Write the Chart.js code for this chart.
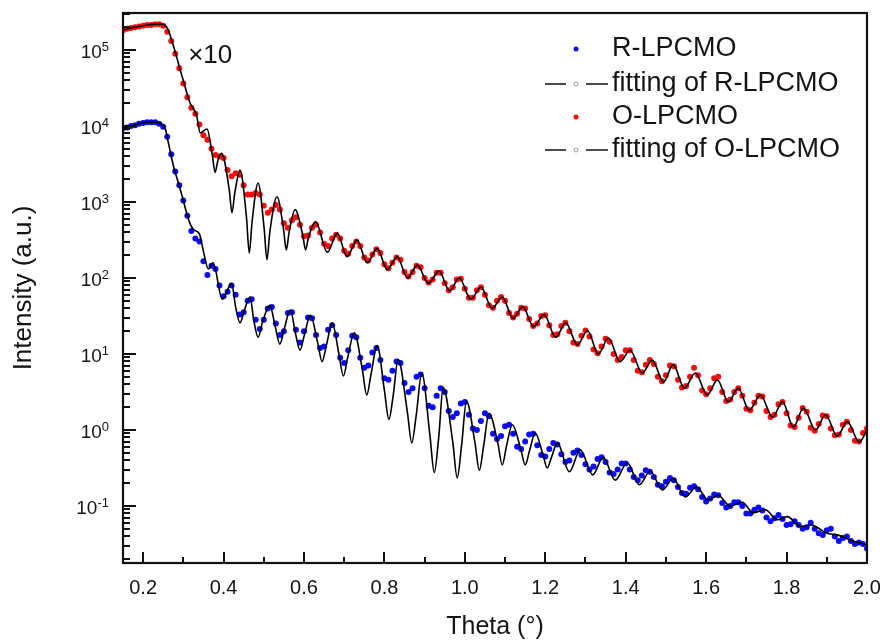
<!DOCTYPE html>
<html><head><meta charset="utf-8">
<script src="https://cdn.jsdelivr.net/npm/chart.js@4.4.0/dist/chart.umd.min.js"></script>
<style>html,body{margin:0;padding:0;background:#fff}canvas{display:block}</style>
</head><body>
<canvas id="c" width="887" height="642"></canvas>
<script>
// ---- data (intensities given as log10 exponents, i.e. decades on the log axis) ----
const thetaStart = 0.15;   // first measured angle
const thetaStep = 0.01;    // spacing of measured points
// measured R-LPCMO (blue dots), theta = 0.15 ... 2.00
const rDataExp = [
 3.97,3.98,4.00,4.01,4.03,4.04,4.05,4.05,4.05,4.03,
 3.99,3.86,3.63,3.40,3.22,3.02,2.82,2.62,2.52,2.48,
 2.22,2.04,2.16,2.12,1.90,1.76,1.82,1.90,1.78,1.52,
 1.55,1.70,1.72,1.45,1.33,1.45,1.60,1.62,1.40,1.25,
 1.30,1.54,1.55,1.32,1.15,1.30,1.48,1.47,1.25,1.08,
 1.10,1.32,1.38,1.25,0.95,0.88,1.05,1.24,1.22,0.95,
 0.82,0.85,1.02,1.08,0.92,0.68,0.66,0.78,0.90,0.88,
 0.62,0.50,0.55,0.70,0.73,0.55,0.32,0.30,0.45,0.55,
 0.50,0.25,0.17,0.22,0.35,0.37,0.20,0.02,0.00,0.12,
 0.22,0.18,-0.05,-0.12,-0.08,0.05,0.07,-0.05,-0.22,-0.25,
 -0.15,-0.06,-0.05,-0.20,-0.33,-0.35,-0.25,-0.17,-0.19,-0.32,
 -0.42,-0.40,-0.30,-0.27,-0.33,-0.45,-0.52,-0.48,-0.38,-0.36,
 -0.42,-0.56,-0.58,-0.52,-0.44,-0.44,-0.52,-0.62,-0.66,-0.60,
 -0.53,-0.55,-0.62,-0.72,-0.74,-0.68,-0.63,-0.66,-0.75,-0.83,
 -0.84,-0.76,-0.74,-0.78,-0.88,-0.94,-0.90,-0.85,-0.86,-0.96,
 -1.02,-1.00,-0.95,-0.95,-1.00,-1.10,-1.10,-1.05,-1.02,-1.06,
 -1.15,-1.20,-1.16,-1.12,-1.17,-1.25,-1.24,-1.20,-1.25,-1.30,
 -1.28,-1.22,-1.30,-1.36,-1.38,-1.32,-1.30,-1.40,-1.46,-1.42,
 -1.40,-1.46,-1.50,-1.48,-1.50,-1.56
];
// measured O-LPCMO x10 (red dots), theta = 0.15 ... 2.00
const oDataExp = [
 5.26,5.28,5.29,5.30,5.31,5.32,5.33,5.33,5.34,5.34,
 5.32,5.24,5.12,4.95,4.76,4.56,4.38,4.24,4.16,4.02,
 3.88,3.82,3.70,3.62,3.60,3.58,3.42,3.34,3.38,3.36,
 3.22,3.10,3.10,3.12,3.10,2.95,2.86,2.90,2.96,2.90,
 2.72,2.66,2.76,2.80,2.70,2.55,2.56,2.66,2.70,2.60,
 2.45,2.42,2.52,2.57,2.52,2.36,2.32,2.42,2.48,2.42,
 2.27,2.23,2.31,2.38,2.33,2.18,2.13,2.20,2.27,2.24,
 2.08,2.02,2.08,2.16,2.14,2.00,1.94,1.98,2.07,2.07,
 1.93,1.84,1.88,1.98,1.99,1.86,1.74,1.74,1.84,1.88,
 1.78,1.64,1.61,1.70,1.75,1.70,1.54,1.48,1.53,1.61,
 1.60,1.46,1.37,1.40,1.50,1.51,1.38,1.25,1.26,1.37,
 1.41,1.30,1.15,1.13,1.24,1.31,1.23,1.06,1.01,1.10,
 1.20,1.16,1.00,0.92,0.96,1.05,1.05,0.92,0.78,0.76,
 0.86,0.92,0.87,0.70,0.64,0.72,0.85,0.84,0.66,0.56,
 0.58,0.70,0.82,0.72,0.52,0.47,0.55,0.68,0.70,0.50,
 0.38,0.40,0.50,0.55,0.45,0.28,0.26,0.36,0.45,0.44,
 0.25,0.17,0.20,0.34,0.37,0.22,0.06,0.04,0.16,0.29,
 0.24,0.03,-0.01,0.08,0.19,0.18,0.02,-0.07,-0.06,0.07,
 0.11,0.00,-0.14,-0.15,-0.04,0.02
];
// fitting of R-LPCMO (black line)
const rFitTheta = [0.150,0.170,0.190,0.210,0.230,0.245,0.255,0.262,0.270,0.278,0.285,0.297,0.309,0.318,0.327,0.340,0.350,0.362,0.374,0.397,0.420,0.430,0.441,0.452,0.466,0.475,0.486,0.497,0.515,0.529,0.540,0.551,0.566,0.579,0.590,0.601,0.616,0.634,0.645,0.656,0.670,0.687,0.698,0.709,0.725,0.745,0.756,0.767,0.782,0.800,0.811,0.822,0.834,0.857,0.868,0.879,0.893,0.913,0.924,0.935,0.946,0.970,0.981,0.992,1.004,1.025,1.036,1.047,1.060,1.082,1.093,1.104,1.118,1.139,1.150,1.161,1.175,1.194,1.205,1.216,1.230,1.260,1.287,1.318,1.344,1.374,1.404,1.434,1.461,1.491,1.518,1.548,1.576,1.605,1.630,1.660,1.690,1.717,1.747,1.777,1.802,1.834,1.862,1.900,1.926,1.966,2.000];
const rFitExp   = [3.97,4.00,4.03,4.05,4.05,4.03,3.97,3.80,3.60,3.42,3.30,3.08,2.84,2.70,2.63,2.58,2.35,2.12,2.20,1.72,1.93,1.62,1.41,1.58,1.75,1.45,1.22,1.42,1.64,1.35,1.13,1.33,1.58,1.27,1.05,1.25,1.51,1.15,0.90,1.12,1.41,1.00,0.71,0.96,1.28,0.80,0.46,0.74,1.11,0.52,0.14,0.46,0.93,0.24,-0.17,0.19,0.75,-0.06,-0.56,-0.10,0.56,-0.16,-0.63,-0.20,0.38,-0.16,-0.53,-0.20,0.22,-0.17,-0.46,-0.20,0.07,-0.25,-0.46,-0.27,-0.04,-0.32,-0.50,-0.35,-0.17,-0.55,-0.26,-0.59,-0.36,-0.66,-0.43,-0.72,-0.54,-0.79,-0.64,-0.88,-0.75,-0.92,-0.86,-1.00,-0.95,-1.09,-1.05,-1.18,-1.14,-1.27,-1.25,-1.36,-1.38,-1.46,-1.51];
// fitting of O-LPCMO x10 (black line)
const oFitTheta = [0.150,0.170,0.190,0.210,0.230,0.245,0.255,0.262,0.268,0.275,0.285,0.292,0.300,0.309,0.317,0.325,0.333,0.342,0.359,0.372,0.379,0.386,0.395,0.414,0.421,0.428,0.441,0.457,0.464,0.471,0.486,0.501,0.508,0.515,0.533,0.549,0.556,0.563,0.578,0.597,0.604,0.611,0.629,0.658,0.683,0.707,0.732,0.757,0.782,0.807,0.832,0.857,0.882,0.909,0.936,0.962,0.986,1.015,1.040,1.068,1.093,1.120,1.144,1.171,1.197,1.226,1.251,1.280,1.305,1.332,1.357,1.386,1.411,1.441,1.466,1.494,1.518,1.546,1.573,1.603,1.628,1.655,1.680,1.707,1.735,1.765,1.790,1.817,1.842,1.872,1.897,1.926,1.951,1.981,2.000];
const oFitExp   = [5.26,5.29,5.31,5.33,5.34,5.34,5.32,5.27,5.18,5.06,4.88,4.74,4.60,4.43,4.30,4.23,4.14,3.91,3.96,3.62,3.39,3.55,3.64,3.17,2.86,3.12,3.42,2.80,2.33,2.74,3.25,2.65,2.24,2.60,3.07,2.65,2.37,2.60,2.90,2.56,2.37,2.53,2.74,2.34,2.59,2.28,2.50,2.20,2.39,2.11,2.28,2.00,2.17,1.93,2.09,1.83,2.00,1.72,1.88,1.60,1.75,1.47,1.62,1.36,1.52,1.22,1.41,1.12,1.31,1.00,1.21,0.90,1.05,0.75,0.92,0.63,0.86,0.55,0.75,0.46,0.66,0.37,0.55,0.26,0.46,0.17,0.37,0.04,0.29,0.00,0.20,-0.08,0.11,-0.16,0.00];

const seriesNames = ['R-LPCMO', 'fitting of R-LPCMO', 'O-LPCMO', 'fitting of O-LPCMO'];
const xMajorTicks = [0.2, 0.4, 0.6, 0.8, 1.0, 1.2, 1.4, 1.6, 1.8, 2.0];
const xMinorTicks = [0.3, 0.5, 0.7, 0.9, 1.1, 1.3, 1.5, 1.7, 1.9];
const yMajorTicks = [0.1, 1, 10, 100, 1000, 10000, 100000];
const yTickBase = '10';
const yTickPowers = ['-1', '0', '1', '2', '3', '4', '5'];
const xTitle = 'Theta (\u00B0)';
const yTitle = 'Intensity (a.u.)';
const scaleNote = '\u00D710';

// ---- build ----
const FONT = "'Liberation Sans', Arial, Helvetica, sans-serif";
const TXT = '#141414';
const BLUE = '#0a0aff', RED = '#ff0a0a';
const fromExp = e => Math.pow(10, e);
const measured = arr => arr.map((e, i) => ({x: +(thetaStart + i * thetaStep).toFixed(2), y: fromExp(e)}));
const fitted = (th, ex) => th.map((t, i) => ({x: t, y: fromExp(ex[i])}));
const yMin = fromExp(-1.75), yMax = fromExp(5.487);
const yMinorTicks = [];
for (let d = -2; d <= 5; d++) for (let m = 2; m <= 9; m++) { const v = m * Math.pow(10, d); if (v > yMin && v < yMax) yMinorTicks.push(v); }

const decor = {
  id: 'decor',
  afterDatasetsDraw(chart) {
    const {ctx, chartArea: a, scales: {x, y}} = chart;
    ctx.save();
    ctx.strokeStyle = '#111'; ctx.lineWidth = 2;
    ctx.beginPath();
    const vt = (v, len) => { const p = Math.round(x.getPixelForValue(v)); ctx.moveTo(p, a.bottom); ctx.lineTo(p, a.bottom - len); };
    const ht = (v, len) => { const p = Math.round(y.getPixelForValue(v)); ctx.moveTo(a.left, p); ctx.lineTo(a.left + len, p); };
    xMajorTicks.forEach(v => vt(v, 11));
    xMinorTicks.forEach(v => vt(v, 6));
    yMajorTicks.forEach(v => ht(v, 13));
    yMinorTicks.forEach(v => ht(v, 7));
    ctx.stroke();
    ctx.lineWidth = 2.2;
    ctx.strokeRect(a.left, a.top, a.right - a.left, a.bottom - a.top);
    // y tick labels: 10 with raised exponent
    ctx.fillStyle = TXT; ctx.textAlign = 'right'; ctx.textBaseline = 'alphabetic';
    yMajorTicks.forEach((v, i) => {
      const p = y.getPixelForValue(v);
      const right = a.left - 14;
      ctx.font = '13px ' + FONT;
      const ew = ctx.measureText(yTickPowers[i]).width;
      ctx.fillText(yTickPowers[i], right, p + 1);
      ctx.font = '19px ' + FONT;
      ctx.fillText(yTickBase, right - ew, p + 8);
    });
    // x10 note
    ctx.font = '26px ' + FONT; ctx.textAlign = 'left'; ctx.textBaseline = 'middle';
    ctx.fillText(scaleNote, x.getPixelForValue(0.312), y.getPixelForValue(fromExp(4.93)));
    // legend
    const rows = [
      {y: 49, kind: 'dot', color: BLUE, text: seriesNames[0]},
      {y: 84, kind: 'fit', text: seriesNames[1]},
      {y: 117, kind: 'dot', color: RED, text: seriesNames[2]},
      {y: 150, kind: 'fit', text: seriesNames[3]}
    ];
    ctx.font = '27px ' + FONT;
    rows.forEach(r => {
      if (r.kind === 'dot') {
        ctx.fillStyle = r.color; ctx.beginPath(); ctx.arc(576, r.y, 2.5, 0, Math.PI * 2); ctx.fill();
      } else {
        ctx.strokeStyle = '#111'; ctx.lineWidth = 1.6; ctx.beginPath();
        ctx.moveTo(545, r.y); ctx.lineTo(566, r.y); ctx.moveTo(586, r.y); ctx.lineTo(608, r.y); ctx.stroke();
        ctx.strokeStyle = '#999'; ctx.lineWidth = 1; ctx.fillStyle = '#fff';
        ctx.beginPath(); ctx.arc(576, r.y, 2, 0, Math.PI * 2); ctx.fill(); ctx.stroke();
      }
      ctx.fillStyle = TXT; ctx.fillText(r.text, 612, r.y);
    });
    ctx.restore();
  }
};

const noPad = s => { s.paddingTop = 0; s.paddingBottom = 0; s.paddingLeft = 0; s.paddingRight = 0; };

new Chart(document.getElementById('c'), {
  type: 'line',
  data: {
    datasets: [
      {label: seriesNames[1], data: fitted(rFitTheta, rFitExp), borderColor: '#000', borderWidth: 1.6, pointRadius: 0, cubicInterpolationMode: 'monotone', fill: false},
      {label: seriesNames[3], data: fitted(oFitTheta, oFitExp), borderColor: '#000', borderWidth: 1.6, pointRadius: 0, cubicInterpolationMode: 'monotone', fill: false},
      {label: seriesNames[0], data: measured(rDataExp), showLine: false, pointRadius: 3, pointBorderWidth: 0, pointBackgroundColor: BLUE, borderColor: BLUE},
      {label: seriesNames[2], data: measured(oDataExp), showLine: false, pointRadius: 3, pointBorderWidth: 0, pointBackgroundColor: RED, borderColor: RED}
    ]
  },
  options: {
    responsive: false, animation: false, events: [],
    layout: {padding: {top: 13, right: 20, left: 0, bottom: 0}},
    plugins: {legend: {display: false}, tooltip: {enabled: false}},
    scales: {
      x: {
        type: 'linear', min: 0.15, max: 2.0,
        afterBuildTicks: s => { s.ticks = xMajorTicks.map(v => ({value: v})); },
        afterFit: s => { s.height = 79; noPad(s); },
        grid: {display: false, drawTicks: false}, border: {display: false},
        ticks: {padding: 13, color: TXT, font: {size: 20, family: FONT}, maxRotation: 0, autoSkip: false, callback: v => v.toFixed(1)},
        title: {display: true, text: xTitle, color: TXT, font: {size: 25, family: FONT}, padding: {top: 0, bottom: 0}}
      },
      y: {
        type: 'logarithmic', min: yMin, max: yMax,
        afterBuildTicks: s => { s.ticks = yMajorTicks.map(v => ({value: v})); },
        afterFit: s => { s.width = 123; noPad(s); },
        grid: {display: false, drawTicks: false}, border: {display: false},
        ticks: {display: false},
        title: {display: true, text: yTitle, color: TXT, font: {size: 26, family: FONT}, padding: {top: 8, bottom: 0}}
      }
    }
  },
  plugins: [decor]
});
</script>
</body></html>
